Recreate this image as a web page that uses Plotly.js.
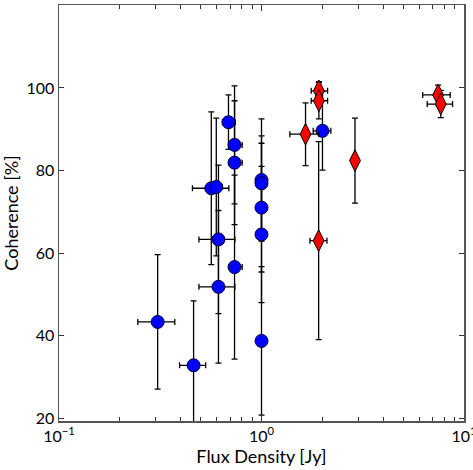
<!DOCTYPE html>
<html>
<head>
<meta charset="utf-8">
<script src="https://cdn.plot.ly/plotly-3.0.1.min.js"></script>
<style>html,body{margin:0;padding:0;background:#fff;}#chart{width:473px;height:470px;}</style>
</head>
<body>
<div id="chart"></div>
<script>
// Blue circles
var blueX = [0.307, 0.462, 0.565, 0.598, 0.613, 0.613, 0.687, 0.736, 0.736, 0.736, 1.0, 1.0, 1.0, 1.0, 1.0, 2.0];
var blueY = [43.3, 32.8, 75.7, 76.0, 63.3, 51.8, 91.7, 86.2, 81.9, 56.6, 77.7, 76.9, 71.0, 64.5, 38.7, 89.6];
var blueYErr = [16.3, 15.6, 18.5, 16.7, 18.0, 18.5, 6.6, 14.3, 15.0, 22.3, 14.8, 11.5, 15.6, 16.5, 18.0, 9.5];
var blueXErrMinus = [0.062, 0.068, 0.109, 0.04, 0.122, 0.122, 0.045, 0.046, 0.046, 0.046, 0, 0, 0, 0, 0, 0.2];
var blueXErrPlus = [0.066, 0.068, 0.125, 0.04, 0.126, 0.126, 0.055, 0.067, 0.067, 0.067, 0, 0, 0, 0, 0, 0.2];

// Red diamonds
var redX = [1.65, 1.92, 1.92, 1.915, 2.895, 7.45, 7.68];
var redY = [88.8, 99.3, 96.9, 63.0, 82.4, 98.3, 96.1];
var redYErr = [7.6, 2.2, 4.4, 24.0, 10.3, 2.4, 3.3];
var redXErrMinus = [0.27, 0.16, 0.16, 0.18, 0, 1.2, 1.1];
var redXErrPlus = [0.27, 0.2, 0.2, 0.19, 0, 1.1, 1.1];

var xTickVals = [0.1, 1, 10];
var xTickText = ['10<sup>\u22121</sup>', '10<sup>0</sup>', '10<sup>1</sup>'];
var xMinorVals = [0.2, 0.3, 0.4, 0.5, 0.6, 0.7, 0.8, 0.9, 2, 3, 4, 5, 6, 7, 8, 9];
var yTickVals = [20, 40, 60, 80, 100];

var errStyle = {color: '#000', thickness: 1.3, width: 3};

var traces = [
  {
    x: blueX, y: blueY, type: 'scatter', mode: 'markers', name: 'blue',
    marker: {symbol: 'circle', size: 13, color: '#0000ff', line: {color: '#000033', width: 1}},
    error_y: Object.assign({type: 'data', array: blueYErr, visible: true}, errStyle),
    error_x: Object.assign({type: 'data', symmetric: false, array: blueXErrPlus, arrayminus: blueXErrMinus, visible: true}, errStyle)
  },
  {
    x: redX, y: redY, type: 'scatter', mode: 'markers', name: 'red',
    marker: {symbol: 'diamond-tall', size: 15.5, color: '#ff0000', line: {color: '#000', width: 1}},
    error_y: Object.assign({type: 'data', array: redYErr, visible: true}, errStyle),
    error_x: Object.assign({type: 'data', symmetric: false, array: redXErrPlus, arrayminus: redXErrMinus, visible: true}, errStyle)
  }
];

var layout = {
  width: 473, height: 470,
  margin: {l: 59, r: 9, t: 5, b: 49},
  paper_bgcolor: '#fff', plot_bgcolor: '#fff',
  showlegend: false,
  font: {family: 'Lato, "Open Sans", sans-serif', size: 16, color: '#000'},
  xaxis: {
    type: 'log', range: [-1, 1],
    tickmode: 'array', tickvals: xTickVals, ticktext: xTickText,
    ticks: 'inside', ticklen: 6, tickwidth: 1, tickcolor: '#333',
    minor: {tickmode: 'array', tickvals: xMinorVals, ticks: 'inside', ticklen: 4, tickwidth: 1, tickcolor: '#333', showgrid: false},
    showgrid: false, zeroline: false,
    showline: true, linecolor: '#555', linewidth: 1.5, mirror: 'ticks',
    ticklabeloverflow: 'allow',
    tickfont: {size: 16},
    title: {text: 'Flux Density [Jy]', font: {size: 18}, standoff: 4}
  },
  yaxis: {
    range: [19.3, 120.1],
    tickmode: 'array', tickvals: yTickVals,
    ticks: 'inside', ticklen: 5, tickwidth: 1, tickcolor: '#333',
    showgrid: false, zeroline: false,
    showline: true, linecolor: '#555', linewidth: 1.5, mirror: 'ticks',
    tickfont: {size: 16},
    title: {text: 'Coherence [%]', font: {size: 18}, standoff: 6}
  }
};

Plotly.newPlot('chart', traces, layout, {displayModeBar: false, staticPlot: true});
</script>
</body>
</html>
